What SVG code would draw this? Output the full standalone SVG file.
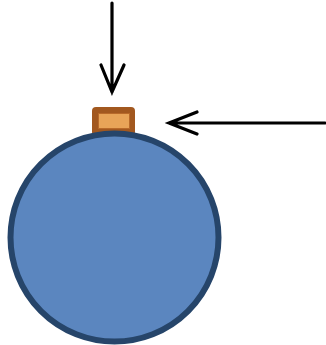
<svg xmlns="http://www.w3.org/2000/svg" width="326" height="345" viewBox="0 0 326 345">
<style>
.arr{stroke:#000;stroke-width:3.2;fill:none;stroke-linecap:round;stroke-linejoin:miter}
</style>
<rect width="326" height="345" fill="#fff"/>
<g id="cap">
<rect x="92" y="107" width="43" height="29" rx="4" fill="#A2581F"/>
<rect x="98.5" y="113.5" width="31" height="15" fill="#E8A458" stroke="#B86A2A" stroke-width="1"/>
</g>
<g id="ball">
<circle cx="114.5" cy="237.5" r="104" fill="#5B86BF" stroke="#26456A" stroke-width="6"/>
</g>
<g id="connectors">
<path class="arr" d="M112 3V92M101 65L112 92L124 65"/>
<path class="arr" d="M325 123H169M197 112L169 123L197 134"/>
</g>
</svg>
